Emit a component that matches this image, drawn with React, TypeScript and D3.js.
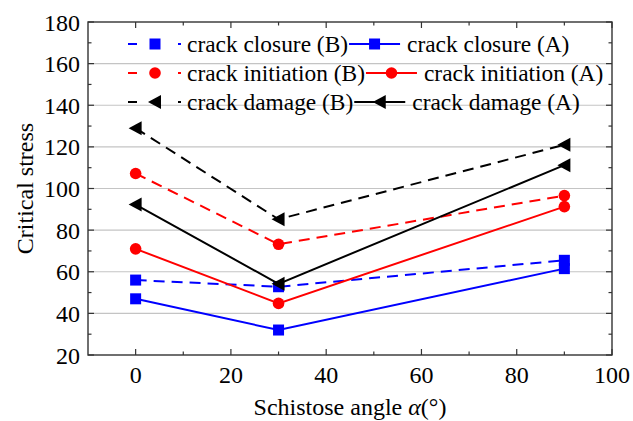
import React, { useEffect, useRef } from "react";
import * as d3 from "d3";

const angles = [0, 30, 90];
const closureB = [56, 52.8, 65.5];
const closureA = [47, 32, 61.5];
const initiationB = [107.2, 73.2, 96.6];
const initiationA = [71, 44.8, 91.3];
const damageB = [129, 85.2, 121];
const damageA = [92.3, 54.2, 111.2];

const xTicks = [0, 20, 40, 60, 80, 100];
const yTicks = [20, 40, 60, 80, 100, 120, 140, 160, 180];

type Series = { name: string; values: number[]; color: string; dashed: boolean; marker: "square" | "circle" | "triangle" };

const series: Series[] = [
  { name: "crack closure (B)", values: closureB, color: "#0000ff", dashed: true, marker: "square" },
  { name: "crack closure (A)", values: closureA, color: "#0000ff", dashed: false, marker: "square" },
  { name: "crack initiation (B)", values: initiationB, color: "#ff0000", dashed: true, marker: "circle" },
  { name: "crack initiation (A)", values: initiationA, color: "#ff0000", dashed: false, marker: "circle" },
  { name: "crack damage (B)", values: damageB, color: "#000000", dashed: true, marker: "triangle" },
  { name: "crack damage (A)", values: damageA, color: "#000000", dashed: false, marker: "triangle" },
];

const W = 633;
const H = 421;
const M = { left: 88, right: 21, top: 22, bottom: 66 };
const FONT = "Liberation Serif";
const FS = 24;
const LEGEND_FS = 23.4;

function drawMarker(g: d3.Selection<SVGGElement, unknown, null, undefined>, kind: string, x: number, y: number, color: string) {
  if (kind === "square") {
    g.append("rect").attr("x", x - 5.5).attr("y", y - 5.5).attr("width", 11).attr("height", 11).attr("fill", color);
  } else if (kind === "circle") {
    g.append("circle").attr("cx", x).attr("cy", y).attr("r", 5.8).attr("fill", color);
  } else {
    g.append("path")
      .attr("d", `M${x - 7},${y} L${x + 6},${y - 7} L${x + 6},${y + 7} Z`)
      .attr("fill", color);
  }
}

export default function App() {
  const ref = useRef<SVGSVGElement>(null);

  useEffect(() => {
    const svg = d3.select(ref.current!);
    svg.selectAll("*").remove();
    const x = d3.scaleLinear().domain([-10, 100]).range([M.left, W - M.right]);
    const y = d3.scaleLinear().domain([20, 180]).range([H - M.bottom, M.top]);
    const x0 = x.range()[0], x1 = x.range()[1];
    const y0 = y.range()[0], y1 = y.range()[1];

    svg.append("rect").attr("width", W).attr("height", H).attr("fill", "#fff");

    // horizontal grid
    svg.append("g")
      .selectAll("line")
      .data(yTicks.slice(1, -1))
      .join("line")
      .attr("x1", x0).attr("x2", x1)
      .attr("y1", (d) => y(d)).attr("y2", (d) => y(d))
      .attr("stroke", "#c4c4c4").attr("stroke-width", 1.2);

    // frame
    svg.append("rect")
      .attr("x", x0).attr("y", y1).attr("width", x1 - x0).attr("height", y0 - y1)
      .attr("fill", "none").attr("stroke", "#333").attr("stroke-width", 1.4);

    const ticks = svg.append("g").attr("stroke", "#333").attr("stroke-width", 1.2);
    // x ticks, inward on bottom and top
    d3.range(0, 101, 10).forEach((v) => {
      const len = v % 20 === 0 ? 6 : 3.5;
      ticks.append("line").attr("x1", x(v)).attr("x2", x(v)).attr("y1", y0).attr("y2", y0 - len);
      ticks.append("line").attr("x1", x(v)).attr("x2", x(v)).attr("y1", y1).attr("y2", y1 + len);
    });
    // y ticks, inward on left and right
    d3.range(20, 181, 10).forEach((v) => {
      const len = v % 20 === 0 ? 6 : 3.5;
      ticks.append("line").attr("y1", y(v)).attr("y2", y(v)).attr("x1", x0).attr("x2", x0 + len);
      ticks.append("line").attr("y1", y(v)).attr("y2", y(v)).attr("x1", x1).attr("x2", x1 - len);
    });

    svg.append("g")
      .selectAll("text")
      .data(xTicks)
      .join("text")
      .attr("x", (d) => x(d)).attr("y", y0 + 28)
      .attr("text-anchor", "middle")
      .style("font-family", FONT).attr("font-size", FS)
      .text((d) => d);

    svg.append("g")
      .selectAll("text")
      .data(yTicks)
      .join("text")
      .attr("x", x0 - 8).attr("y", (d) => y(d) + 8.5)
      .attr("text-anchor", "end")
      .style("font-family", FONT).attr("font-size", FS)
      .text((d) => d);

    // axis titles
    const xt = svg.append("text")
      .attr("x", (x0 + x1) / 2).attr("y", 415)
      .attr("text-anchor", "middle")
      .style("font-family", FONT).attr("font-size", FS);
    xt.append("tspan").text("Schistose angle ");
    xt.append("tspan").attr("font-style", "italic").text("α");
    xt.append("tspan").text("(°)");

    svg.append("text")
      .attr("transform", `translate(33,${(y0 + y1) / 2}) rotate(-90)`)
      .attr("text-anchor", "middle")
      .style("font-family", FONT).attr("font-size", FS)
      .text("Critical stress");

    // series
    const line = d3.line<number>().x((_, i) => x(angles[i])).y((d) => y(d));
    series.forEach((s) => {
      const g = svg.append("g");
      g.append("path")
        .attr("d", line(s.values))
        .attr("fill", "none")
        .attr("stroke", s.color)
        .attr("stroke-width", 2)
        .attr("stroke-dasharray", s.dashed ? "11,7" : null);
      s.values.forEach((v, i) => drawMarker(g, s.marker, x(angles[i]), y(v), s.color));
    });

    // legend: two entries per row, second follows the first label
    const leg = svg.append("g");
    const rowY = [44, 73, 102];
    for (let r = 0; r < 3; r++) {
      let cx = 128;
      for (let c = 0; c < 2; c++) {
        const s = series[r * 2 + c];
        const yy = rowY[r];
        const symW = s.dashed ? 54 : 51;
        leg.append("line")
          .attr("x1", cx).attr("x2", cx + symW).attr("y1", yy).attr("y2", yy)
          .attr("stroke", s.color).attr("stroke-width", 2)
          .attr("stroke-dasharray", s.dashed ? "9,41,3,20" : null);
        drawMarker(leg, s.marker, cx + symW / 2, yy, s.color);
        const tx = cx + symW + (s.dashed ? 5 : 7);
        const t = leg.append("text")
          .attr("x", tx).attr("y", yy + 8)
          .style("font-family", FONT).attr("font-size", LEGEND_FS)
          .text(s.name);
        const tw = (t.node() as SVGTextElement).getComputedTextLength();
        cx = tx + tw + 1;
      }
    }
  }, []);

  return (
    <div style={{ position: "fixed", left: 0, top: 0 }}>
      <svg ref={ref} width={W} height={H} style={{ display: "block" }} />
    </div>
  );
}
